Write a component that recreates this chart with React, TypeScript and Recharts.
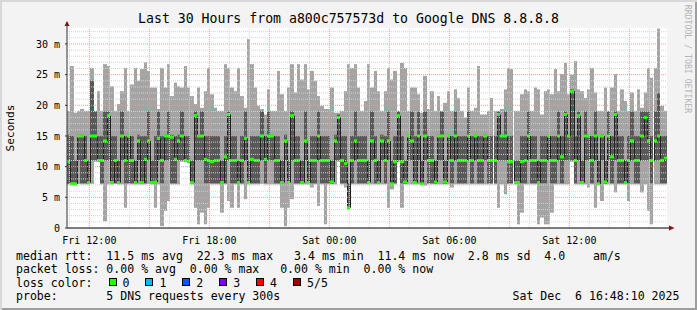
import { ComposedChart, Bar, XAxis, YAxis, ReferenceLine } from "recharts"

// time axis: hours since Fri 00:00, one column every 10 minutes
const START_HOUR = 10.883
const STEP_HOURS = 1 / 6
const END_HOUR = START_HOUR + 30
const COL_W = 600 / 180

// lowest of the 5 pings (ms)
const lo = [
  7.1, 7.1, 7.1, 7.2, 7.1, 7.1, 7.1, 7.2, 10.8, 10.8,
  7.1, 1.1, 7.1, 7.1, 7.2, 7.1, 7.1, 3.3, 7.1, 7.1,
  7.1, 7.1, 7.1, 7.1, 7.2, 7.1, 3.3, 7.1, 0.3, 2.8,
  4.4, 7.1, 7.1, 7.1, 10.8, 10.8, 10.8, 7.1, 3.3, 0.6,
  2.5, 0.6, 3.3, 7.1, 7.1, 7.1, 2.5, 7.1, 4.4, 3.3,
  7.1, 3.3, 7.1, 4.7, 7.1, 7.1, 7.1, 7.1, 7.2, 7.1,
  7.1, 7.1, 7.1, 7.1, 3.3, 0.3, 3.3, 4.7, 7.1, 7.1,
  7.1, 7.1, 7.1, 6.6, 7.1, 3.6, 7.1, 0.6, 7.1, 7.1,
  7.1, 10.8, 7.1, 6.6, 3.0, 7.1, 7.1, 7.1, 7.1, 7.1,
  7.1, 7.1, 7.1, 7.1, 7.1, 7.1, 3.3, 6.3, 7.1, 10.8,
  3.3, 7.1, 7.1, 7.1, 7.1, 7.1, 7.1, 6.9, 7.1, 7.1,
  7.1, 7.1, 7.1, 7.1, 7.1, 6.6, 7.1, 7.1, 7.1, 7.1,
  7.1, 7.1, 7.1, 7.1, 7.1, 7.1, 7.1, 7.1, 7.1, 3.3,
  7.1, 5.5, 7.1, 7.1, 7.1, 0.6, 2.5, 7.1, 7.1, 7.1,
  7.1, 0.6, 1.7, 0.6, 0.6, 2.5, 7.1, 7.1, 7.1, 7.1,
  7.1, 10.8, 7.1, 7.1, 7.1, 7.1, 6.6, 7.1, 3.3, 7.1,
  4.4, 7.1, 7.1, 7.1, 5.8, 7.1, 7.1, 7.1, 4.4, 7.1,
  7.1, 7.1, 5.8, 7.1, 2.8, 0.6, 7.1, 7.1, 7.1, 7.1,
]

// second ping
const p2 = [
  7.2, 7.1, 7.1, 11.0, 7.3, 7.3, 7.2, 11.0, 11.0, 10.9,
  7.3, 11.0, 11.0, 7.2, 7.3, 7.2, 11.0, 7.3, 7.3, 7.3,
  7.2, 11.0, 7.2, 7.3, 11.0, 7.2, 7.3, 11.0, 7.3, 11.0,
  11.0, 7.3, 7.3, 11.0, 11.0, 10.9, 10.8, 7.2, 11.0, 11.0,
  11.0, 7.3, 7.3, 7.3, 7.3, 7.3, 7.2, 7.3, 11.0, 7.3,
  7.3, 7.2, 7.3, 11.0, 7.2, 7.3, 7.3, 7.3, 11.0, 7.3,
  11.0, 11.0, 7.3, 7.3, 7.2, 11.0, 7.2, 11.0, 7.3, 7.3,
  7.2, 11.0, 7.2, 7.3, 7.3, 11.0, 7.3, 7.3, 7.3, 7.2,
  11.0, 11.0, 7.3, 7.3, 3.2, 7.3, 11.0, 7.3, 7.3, 7.3,
  7.2, 11.0, 7.3, 7.2, 11.0, 7.3, 11.0, 7.1, 7.3, 11.0,
  7.3, 7.2, 11.0, 11.0, 7.2, 11.0, 7.1, 11.0, 7.3, 7.3,
  7.2, 11.0, 11.0, 7.2, 11.0, 7.3, 11.0, 7.3, 7.3, 7.3,
  11.0, 7.3, 11.0, 7.3, 7.3, 11.0, 7.3, 7.3, 7.3, 11.0,
  11.0, 11.0, 7.3, 7.3, 7.2, 7.2, 7.3, 7.3, 11.0, 7.3,
  7.3, 7.2, 7.3, 7.3, 11.0, 7.3, 7.3, 11.0, 7.3, 11.0,
  11.0, 11.0, 7.3, 11.0, 7.2, 11.0, 11.0, 7.3, 11.0, 7.1,
  11.0, 7.2, 11.0, 7.3, 11.0, 7.3, 7.3, 7.2, 7.3, 11.0,
  7.3, 7.3, 11.0, 11.0, 11.0, 7.3, 11.0, 11.0, 7.3, 7.3,
]

// median rtt
const med = [
  10.8, 7.2, 7.2, 15.0, 15.0, 11.0, 7.4, 15.0, 15.0, 11.0,
  11.0, 14.2, 18.3, 7.4, 11.0, 7.4, 15.0, 11.0, 15.0, 11.0,
  7.4, 14.2, 7.4, 11.2, 14.2, 7.4, 7.5, 14.6, 11.0, 15.0,
  15.0, 14.8, 11.2, 14.2, 15.0, 11.0, 10.8, 7.4, 18.3, 15.0,
  15.0, 11.2, 11.0, 10.8, 11.0, 11.0, 7.4, 11.6, 18.5, 11.0,
  11.0, 7.4, 11.0, 14.6, 7.4, 11.2, 11.0, 11.0, 15.0, 11.2,
  15.0, 15.0, 11.0, 11.0, 7.4, 14.2, 7.4, 18.3, 11.0, 11.0,
  7.4, 14.2, 7.4, 11.0, 11.0, 15.0, 11.0, 11.0, 11.0, 7.5,
  14.2, 18.0, 11.0, 10.5, 3.3, 11.0, 14.2, 11.0, 11.0, 11.0,
  7.4, 14.2, 11.0, 7.4, 14.2, 11.0, 14.2, 7.2, 10.8, 18.3,
  10.8, 7.5, 15.0, 14.2, 7.4, 15.0, 7.2, 15.0, 11.0, 11.0,
  7.5, 15.0, 15.0, 7.5, 15.0, 11.0, 15.0, 11.0, 11.0, 11.0,
  15.0, 11.0, 15.0, 11.0, 11.0, 15.0, 11.0, 11.0, 11.0, 18.5,
  15.0, 15.0, 10.8, 10.8, 7.4, 7.4, 10.8, 11.0, 15.0, 11.0,
  11.0, 7.4, 11.0, 11.0, 15.0, 11.0, 11.0, 15.0, 11.6, 18.5,
  15.0, 22.3, 11.0, 18.3, 7.4, 15.0, 15.0, 11.0, 15.0, 7.2,
  15.0, 7.5, 15.0, 11.6, 18.5, 11.0, 11.0, 7.4, 11.0, 14.2,
  11.0, 11.0, 15.0, 18.0, 14.2, 11.0, 14.2, 15.0, 11.0, 11.4,
]

// fourth ping
const p4 = [
  15.2, 15.0, 11.0, 15.2, 15.2, 15.0, 11.0, 24.0, 19.0, 15.0,
  15.0, 19.0, 19.0, 15.0, 15.0, 11.0, 19.0, 15.0, 15.2, 15.0,
  11.0, 15.2, 15.0, 15.0, 19.0, 11.0, 15.0, 19.0, 15.0, 15.2,
  19.0, 15.2, 15.0, 15.2, 19.0, 15.0, 15.0, 11.0, 19.0, 15.2,
  19.0, 15.0, 15.0, 15.0, 15.0, 15.0, 11.0, 15.0, 19.0, 15.0,
  15.0, 11.0, 15.0, 19.0, 11.0, 15.0, 15.0, 15.0, 19.0, 15.0,
  19.0, 15.2, 15.0, 15.0, 11.0, 15.2, 11.0, 19.0, 15.0, 15.0,
  11.0, 19.0, 11.0, 15.0, 15.0, 19.0, 15.0, 15.0, 15.0, 11.0,
  15.2, 18.5, 15.0, 15.0, 7.3, 15.0, 19.0, 15.0, 15.0, 15.0,
  11.0, 19.0, 15.0, 11.0, 15.2, 15.0, 19.0, 11.0, 15.0, 19.0,
  15.0, 11.0, 15.2, 19.0, 15.0, 19.0, 11.0, 19.0, 15.0, 15.0,
  11.0, 15.2, 19.0, 11.0, 15.2, 15.0, 19.0, 15.0, 15.0, 15.0,
  19.0, 15.0, 15.2, 15.0, 15.0, 15.2, 15.0, 15.0, 15.0, 19.0,
  15.2, 19.0, 15.0, 15.0, 11.0, 11.0, 15.0, 15.0, 19.0, 15.0,
  15.0, 11.0, 15.0, 15.0, 15.2, 15.0, 15.0, 19.0, 15.0, 19.0,
  15.2, 22.6, 15.0, 19.0, 11.0, 19.0, 15.2, 15.0, 19.0, 11.0,
  15.2, 11.0, 19.0, 15.0, 19.0, 15.0, 15.0, 11.0, 15.0, 19.0,
  15.0, 15.0, 19.0, 19.0, 19.0, 15.0, 19.0, 22.0, 15.0, 15.0,
]

// highest of the 5 pings
const hi = [
  19.1, 26.4, 18.8, 19.1, 19.4, 19.1, 19.1, 26.1, 19.1, 22.3,
  19.1, 26.7, 26.4, 23.1, 19.1, 20.2, 22.3, 26.1, 19.1, 23.4,
  26.1, 24.0, 25.9, 27.0, 25.6, 22.9, 22.9, 19.4, 26.1, 22.9,
  26.7, 21.5, 23.7, 23.1, 22.9, 26.4, 22.9, 21.5, 20.2, 22.9,
  19.6, 22.3, 26.1, 21.8, 19.6, 19.1, 19.1, 26.7, 26.1, 22.9,
  22.3, 26.1, 21.5, 19.6, 30.8, 26.7, 22.9, 19.9, 19.4, 18.5,
  22.6, 19.1, 19.1, 25.6, 21.8, 19.1, 22.9, 26.7, 22.1, 26.7,
  24.2, 26.7, 22.6, 25.6, 24.0, 21.5, 19.9, 19.4, 19.4, 22.9,
  18.8, 18.8, 19.1, 22.3, 26.7, 26.1, 26.7, 22.9, 19.1, 20.7,
  26.7, 22.9, 25.6, 22.3, 19.1, 22.3, 26.1, 24.2, 25.6, 19.1,
  26.9, 26.1, 19.1, 22.9, 22.9, 21.8, 18.8, 24.8, 19.4, 22.3,
  19.1, 21.5, 19.1, 20.4, 22.3, 19.1, 22.6, 21.2, 19.1, 18.0,
  22.9, 19.1, 19.6, 26.4, 18.5, 18.5, 19.1, 21.2, 19.1, 19.1,
  19.4, 22.6, 26.1, 25.9, 19.1, 19.1, 21.8, 22.6, 22.3, 19.1,
  22.9, 22.6, 18.5, 22.3, 22.6, 21.8, 25.9, 22.3, 25.1, 26.9,
  21.8, 25.0, 27.2, 22.6, 22.3, 21.2, 22.6, 26.1, 22.1, 19.1,
  19.1, 22.9, 19.1, 22.9, 25.1, 19.1, 22.6, 20.7, 19.1, 22.1,
  19.1, 22.6, 19.6, 22.1, 26.1, 24.5, 26.1, 32.5, 19.9, 19.1,
]

const xTicks = [12, 18, 24, 30, 36]
const xTickLabels = ["Fri 12:00", "Fri 18:00", "Sat 00:00", "Sat 06:00", "Sat 12:00"]
const yTicks = [0, 5, 10, 15, 20, 25, 30]
const lossColors = ["#26ff00", "#00b8ff", "#0059ff", "#7e00ff", "#ff0000", "#a10000"]
const lossLabels = ["0", "1", "2", "3", "4", "5/5"]

const title = "Last 30 Hours from a800c757573d to Google DNS 8.8.8.8"
const rttLine = "median rtt:  11.5 ms avg  22.3 ms max   3.4 ms min  11.4 ms now  2.8 ms sd  4.0    am/s"
const lossLine = "packet loss: 0.00 % avg  0.00 % max   0.00 % min  0.00 % now"
const probeLine = "probe:       5 DNS requests every 300s"
const stamp = "Sat Dec  6 16:48:10 2025"

const data = med.map((m, i) => ({
  t: START_HOUR + (i + 0.5) * STEP_HOURS,
  smoke: [lo[i], hi[i]],
  core: [p2[i], p4[i]],
  step: i === 0 ? [m, m] : [Math.min(med[i - 1], m), Math.max(med[i - 1], m)],
  mark: [m - 0.25, m + 0.25],
}))

const hourLines = Array.from({ length: 30 }, (_, k) => 11 + k)
const msLines = Array.from({ length: 32 }, (_, k) => 1 + k)

const MONO = '"DejaVu Sans Mono", monospace'

// snap a column to whole pixels so neighbours touch without seams
function colEdges(x: number, width: number) {
  const cx = x + width / 2
  const left = Math.round(cx - COL_W / 2)
  const right = Math.round(cx + COL_W / 2)
  return [left, right]
}

function colRect(fill: string) {
  return (props: any) => {
    const { x, y, width, height } = props
    if (x == null || y == null || !height) return <g />
    const top = height < 0 ? y + height : y
    const [l, r] = colEdges(x, width)
    return <rect x={l} y={top} width={r - l} height={Math.max(Math.abs(height), 1)} fill={fill} />
  }
}

function stepRect(props: any) {
  const { x, y, width, height } = props
  if (x == null || y == null || !height) return <g />
  const top = height < 0 ? y + height : y
  const [l] = colEdges(x, width)
  return <rect x={l} y={top} width={1} height={Math.abs(height)} fill="#202020" />
}

export default function App() {
  return (
    <div style={{ position: "absolute", left: 0, top: 0, width: 697, height: 310, background: "#f3f3f3",
      boxShadow: "inset 2px 2px 0 #d8d8d8, inset -2px -2px 0 #9e9e9e", fontFamily: MONO, color: "#000" }}>
      <div style={{ position: "absolute", left: 67, top: 28, width: 600, height: 200, background: "#fff" }} />
      <div style={{ position: "absolute", left: 0, top: 0 }}>
        <ComposedChart width={697} height={310} data={data} barCategoryGap={0} barGap={0}
          margin={{ top: 28, right: 30, bottom: 62, left: 17 }}>
          <XAxis xAxisId="a" type="number" dataKey="t" domain={[START_HOUR, END_HOUR]} ticks={xTicks}
            tickFormatter={(v: number) => xTickLabels[xTicks.indexOf(v)]} height={20} tickLine={false}
            tickMargin={3} axisLine={{ stroke: "#000" }}
            tick={{ fontFamily: MONO, fontSize: 10, fill: "#000" }} />
          <XAxis xAxisId="b" type="number" dataKey="t" domain={[START_HOUR, END_HOUR]} hide />
          <XAxis xAxisId="c" type="number" dataKey="t" domain={[START_HOUR, END_HOUR]} hide />
          <XAxis xAxisId="d" type="number" dataKey="t" domain={[START_HOUR, END_HOUR]} hide />
          <YAxis type="number" domain={[0, 32.6]} ticks={yTicks} width={50} tickSize={2} tickMargin={5}
            tickFormatter={(v: number) => (v === 0 ? "0" : `${v} m`)} axisLine={{ stroke: "#333" }}
            tickLine={{ stroke: "#333" }} tick={{ fontFamily: MONO, fontSize: 10, fill: "#000" }} />
          <Bar xAxisId="a" dataKey="smoke" barSize={COL_W} shape={colRect("#a4a4a4")} isAnimationActive={false} />
          <Bar xAxisId="b" dataKey="core" barSize={COL_W} shape={colRect("#585858")} isAnimationActive={false} />
          <Bar xAxisId="c" dataKey="step" barSize={COL_W} shape={stepRect} isAnimationActive={false} />
          <Bar xAxisId="d" dataKey="mark" barSize={COL_W} shape={colRect("#26ff00")} isAnimationActive={false} />
          {msLines.map((v) => (
            <ReferenceLine key={`h${v}`} xAxisId="a" y={v} stroke={v % 5 === 0 ? "#e89a9a" : "#d2d2d2"}
              strokeDasharray="1 1" />
          ))}
          {hourLines.map((h) => (
            <ReferenceLine key={`v${h}`} xAxisId="a" x={h} stroke={h % 3 === 0 ? "#e89a9a" : "#d2d2d2"}
              strokeDasharray="1 1" />
          ))}
        </ComposedChart>
      </div>
      <svg width={697} height={310} style={{ position: "absolute", left: 0, top: 0, pointerEvents: "none" }}>
        <line x1={67} y1={22} x2={67} y2={28} stroke="#333" />
        <polygon points="64.5,26 69.5,26 67,21" fill="#8b1010" />
        <line x1={667} y1={228} x2={671} y2={228} stroke="#000" />
        <polygon points="669,225.5 669,230.5 674.5,228" fill="#8b1010" />
      </svg>
      <div style={{ position: "absolute", left: 0, top: 11, width: 697, textAlign: "center", fontSize: 13.2,
        lineHeight: "16px", whiteSpace: "pre" }}>{title}</div>
      <div style={{ position: "absolute", left: 11, top: 128, fontSize: 11.2, whiteSpace: "pre",
        transform: "translate(-50%, -50%) rotate(-90deg)", lineHeight: "14px" }}>Seconds</div>
      <div style={{ position: "absolute", left: 688, top: 59, fontSize: 8.2, color: "#b4b4b4", whiteSpace: "pre",
        transform: "translate(-50%, -50%) rotate(90deg)", lineHeight: "10px" }}>RRDTOOL / TOBI OETIKER</div>
      {[rttLine, lossLine, "loss color:", probeLine].map((s, k) => (
        <div key={k} style={{ position: "absolute", left: 16, top: [248.5, 262, 275.5, 289][k], fontSize: 11.55,
          lineHeight: "14px", whiteSpace: "pre" }}>{s}</div>
      ))}
      {lossLabels.map((l, k) => (
        <div key={l} style={{ position: "absolute", left: 108.5 + k * 36.9, top: 278, height: 14 }}>
          <div style={{ position: "absolute", left: 0, top: 0, width: 6, height: 6, border: "1px solid #000",
            background: lossColors[k] }} />
          <div style={{ position: "absolute", left: 14, top: -2.5, fontSize: 11.55, lineHeight: "14px",
            whiteSpace: "pre" }}>{l}</div>
        </div>
      ))}
      <div style={{ position: "absolute", left: 512.5, top: 289, fontSize: 11.55, lineHeight: "14px",
        whiteSpace: "pre" }}>{stamp}</div>
    </div>
  )
}
